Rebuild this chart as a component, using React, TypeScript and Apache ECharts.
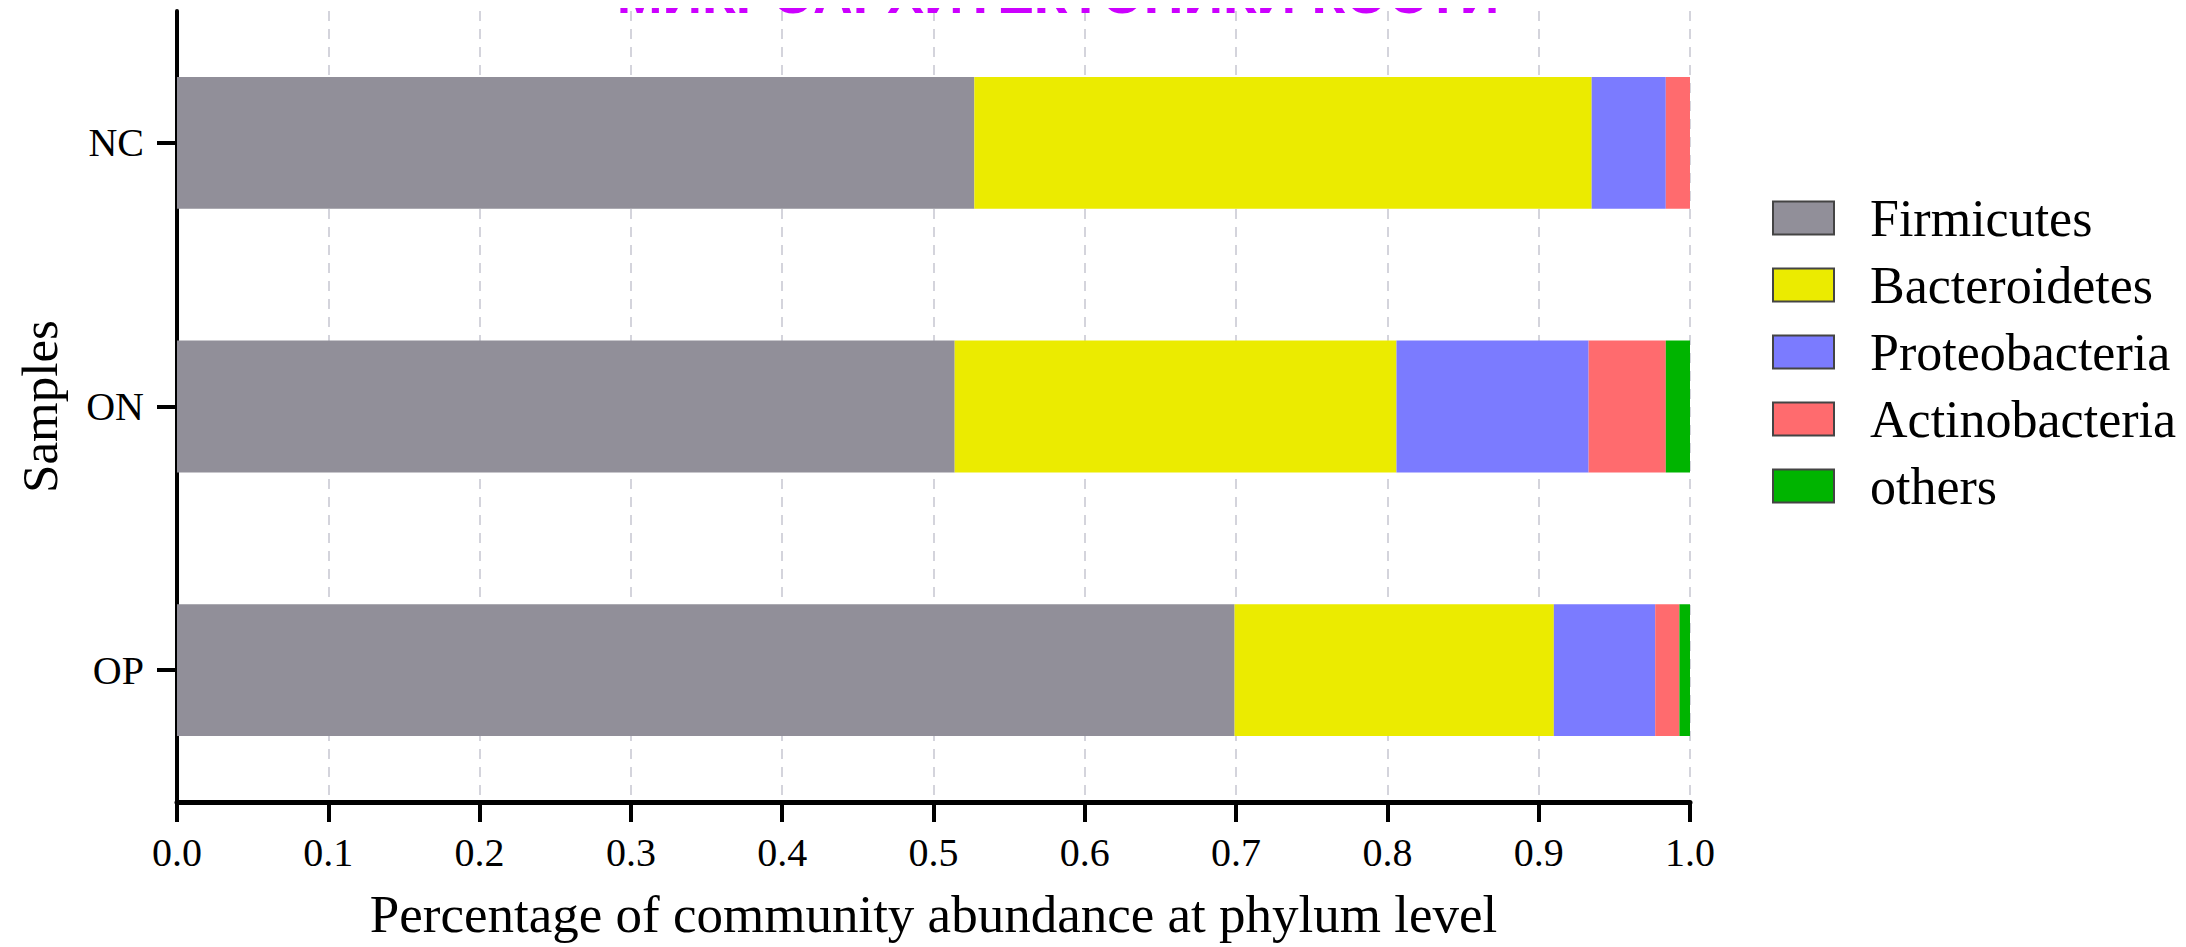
import React, { useEffect, useRef } from "react";
import * as echarts from "echarts";

const samples = ["NC", "ON", "OP"];
const phyla = ["Firmicutes", "Bacteroidetes", "Proteobacteria", "Actinobacteria", "others"];
const firmicutes = [0.527, 0.514, 0.699];
const bacteroidetes = [0.408, 0.292, 0.211];
const proteobacteria = [0.049, 0.127, 0.067];
const actinobacteria = [0.016, 0.051, 0.016];
const others = [0.0, 0.016, 0.007];
const colors = ["#918f99", "#ebeb00", "#7b7bff", "#ff6b6e", "#00b400"];
const titleText = "МИКРОАРХИТЕКТОНИКИ КОСТИ";

const serif = "'Liberation Serif', 'Times New Roman', serif";

export default function App() {
  const ref = useRef<HTMLDivElement>(null);
  useEffect(() => {
    if (!ref.current) return;
    const chart = echarts.init(ref.current, null, { renderer: "svg" });
    const values = [firmicutes, bacteroidetes, proteobacteria, actinobacteria, others];
    chart.setOption({
      animation: false,
      backgroundColor: "#ffffff",
      textStyle: { fontFamily: serif },
      grid: { left: 177, right: 496, top: 11, bottom: 145, containLabel: false },
      graphic: [
        {
          type: "text",
          x: 1058,
          y: 21,
          style: {
            text: titleText,
            fill: "#cc00ff",
            font: "bold 55px 'Liberation Sans', Arial, sans-serif",
            align: "center",
            verticalAlign: "bottom",
          },
          z: 100,
        },
      ],
      legend: {
        orient: "vertical",
        left: 1767,
        top: 187,
        itemWidth: 61,
        itemHeight: 33,
        itemGap: 15,
        icon: "rect",
        itemStyle: { borderColor: "#444444", borderWidth: 2 },
        textStyle: {
          fontSize: 52,
          fontFamily: serif,
          color: "#000000",
          padding: [0, 0, 0, 31],
        },
        data: phyla,
      },
      xAxis: {
        type: "value",
        min: 0,
        max: 1,
        interval: 0.1,
        name: "Percentage of community abundance at phylum level",
        nameLocation: "middle",
        nameGap: 85,
        nameTextStyle: { fontSize: 53, fontFamily: serif, color: "#000" },
        axisLine: { show: true, lineStyle: { color: "#000", width: 5 } },
        axisTick: { show: true, length: 20, lineStyle: { color: "#000", width: 4 } },
        axisLabel: {
          fontSize: 40,
          fontFamily: serif,
          color: "#000",
          margin: 30,
          formatter: (v: number) => v.toFixed(1),
        },
        splitLine: {
          show: true,
          lineStyle: { color: "#d4d4dc", width: 2, type: [10, 8] },
        },
      },
      yAxis: {
        type: "category",
        data: samples,
        inverse: true,
        name: "Samples",
        nameLocation: "middle",
        nameGap: 112,
        nameTextStyle: { fontSize: 51, fontFamily: serif, color: "#000" },
        axisLine: { show: true, lineStyle: { color: "#000", width: 4 } },
        axisTick: { show: true, alignWithLabel: true, length: 20, lineStyle: { color: "#000", width: 4 } },
        axisLabel: { fontSize: 40, fontFamily: serif, color: "#000", margin: 33 },
        splitLine: { show: false },
      },
      series: phyla.map((name, i) => ({
        name,
        type: "bar",
        stack: "total",
        barCategoryGap: "50%",
        data: values[i],
        itemStyle: { color: colors[i] },
        emphasis: { disabled: true },
      })),
    });
    return () => chart.dispose();
  }, []);
  return <div ref={ref} style={{ width: 2186, height: 947, marginLeft: -8, marginTop: -8 }} />;
}
